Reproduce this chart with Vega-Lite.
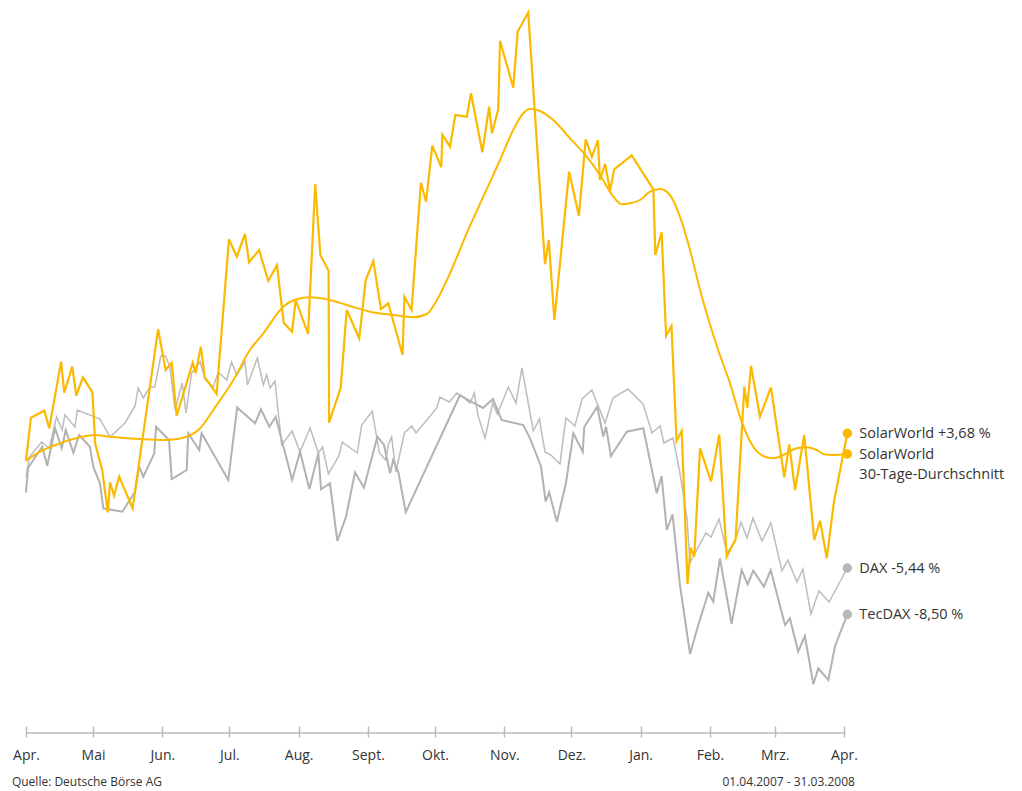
{
  "$schema": "https://vega.github.io/schema/vega-lite/v6.json",
  "width": 818,
  "height": 721,
  "autosize": {"type": "none"},
  "padding": {"left": 26, "top": 5, "right": 178, "bottom": 65},
  "background": "white",
  "config": {"view": {"stroke": null}, "font": "Open Sans"},
  "datasets": {
    "series": [
      {"series":"SolarWorld","day":0,"value":265.3},{"series":"SolarWorld","day":2.2,"value":308.3},{"series":"SolarWorld","day":8.2,"value":315.3},{"series":"SolarWorld","day":10.4,"value":297.7},{"series":"SolarWorld","day":15.7,"value":364.3},{"series":"SolarWorld","day":17.1,"value":333.3},{"series":"SolarWorld","day":20.7,"value":359.3},{"series":"SolarWorld","day":22.5,"value":330.3},{"series":"SolarWorld","day":25.5,"value":348.7},{"series":"SolarWorld","day":29.7,"value":333.7},{"series":"SolarWorld","day":31.0,"value":282},{"series":"SolarWorld","day":34.1,"value":256},{"series":"SolarWorld","day":36.6,"value":213.7},{"series":"SolarWorld","day":37.6,"value":243.7},{"series":"SolarWorld","day":39.4,"value":230.3},{"series":"SolarWorld","day":41.7,"value":249.3},{"series":"SolarWorld","day":47.7,"value":217.7},{"series":"SolarWorld","day":59.1,"value":396.7},{"series":"SolarWorld","day":62.5,"value":356},{"series":"SolarWorld","day":65.2,"value":363.3},{"series":"SolarWorld","day":67.4,"value":310},{"series":"SolarWorld","day":74.6,"value":363.3},{"series":"SolarWorld","day":75.9,"value":352.7},{"series":"SolarWorld","day":78.2,"value":379.3},{"series":"SolarWorld","day":80.0,"value":348.7},{"series":"SolarWorld","day":85.3,"value":332},{"series":"SolarWorld","day":90.8,"value":486.7},{"series":"SolarWorld","day":94.3,"value":469.3},{"series":"SolarWorld","day":98.0,"value":492},{"series":"SolarWorld","day":99.8,"value":463.7},{"series":"SolarWorld","day":104.3,"value":476},{"series":"SolarWorld","day":108.4,"value":445},{"series":"SolarWorld","day":112.3,"value":461},{"series":"SolarWorld","day":115.3,"value":403.3},{"series":"SolarWorld","day":119.0,"value":394.3},{"series":"SolarWorld","day":120.7,"value":426},{"series":"SolarWorld","day":126.2,"value":392},{"series":"SolarWorld","day":129.4,"value":542},{"series":"SolarWorld","day":131.7,"value":471},{"series":"SolarWorld","day":135.4,"value":455.3},{"series":"SolarWorld","day":135.6,"value":303.3},{"series":"SolarWorld","day":140.8,"value":338.3},{"series":"SolarWorld","day":143.5,"value":416},{"series":"SolarWorld","day":149.1,"value":387.7},{"series":"SolarWorld","day":152.0,"value":446},{"series":"SolarWorld","day":155.4,"value":465},{"series":"SolarWorld","day":158.8,"value":417},{"series":"SolarWorld","day":162.1,"value":422.7},{"series":"SolarWorld","day":168.5,"value":371},{"series":"SolarWorld","day":169.3,"value":429.3},{"series":"SolarWorld","day":172.5,"value":416},{"series":"SolarWorld","day":176.7,"value":543.3},{"series":"SolarWorld","day":179.0,"value":524.3},{"series":"SolarWorld","day":181.8,"value":580.3},{"series":"SolarWorld","day":185.8,"value":558.7},{"series":"SolarWorld","day":186.3,"value":591.3},{"series":"SolarWorld","day":189.7,"value":579.3},{"series":"SolarWorld","day":192.1,"value":611},{"series":"SolarWorld","day":197.2,"value":609.3},{"series":"SolarWorld","day":199.1,"value":632.7},{"series":"SolarWorld","day":204.2,"value":573.7},{"series":"SolarWorld","day":207.2,"value":619.3},{"series":"SolarWorld","day":208.5,"value":592.7},{"series":"SolarWorld","day":211.3,"value":616.7},{"series":"SolarWorld","day":212.1,"value":685.3},{"series":"SolarWorld","day":218.0,"value":638.3},{"series":"SolarWorld","day":220.0,"value":694.3},{"series":"SolarWorld","day":224.7,"value":713.7},{"series":"SolarWorld","day":232.2,"value":461.7},{"series":"SolarWorld","day":233.9,"value":486},{"series":"SolarWorld","day":236.4,"value":406},{"series":"SolarWorld","day":243.0,"value":554.3},{"series":"SolarWorld","day":247.4,"value":510},{"series":"SolarWorld","day":250.4,"value":586.7},{"series":"SolarWorld","day":253.2,"value":569.3},{"series":"SolarWorld","day":255.9,"value":586},{"series":"SolarWorld","day":256.8,"value":546},{"series":"SolarWorld","day":259.1,"value":562},{"series":"SolarWorld","day":261.3,"value":535.3},{"series":"SolarWorld","day":263.2,"value":556.7},{"series":"SolarWorld","day":271.0,"value":570.7},{"series":"SolarWorld","day":280.7,"value":536.7},{"series":"SolarWorld","day":281.6,"value":471},{"series":"SolarWorld","day":284.4,"value":493.7},{"series":"SolarWorld","day":286.4,"value":390},{"series":"SolarWorld","day":288.8,"value":400},{"series":"SolarWorld","day":291.1,"value":285},{"series":"SolarWorld","day":293.4,"value":295},{"series":"SolarWorld","day":296.0,"value":142},{"series":"SolarWorld","day":297.4,"value":178.3},{"series":"SolarWorld","day":299.0,"value":169.3},{"series":"SolarWorld","day":301.6,"value":277.7},{"series":"SolarWorld","day":306.5,"value":244.5},{"series":"SolarWorld","day":310.2,"value":291.5},{"series":"SolarWorld","day":313.5,"value":169.3},{"series":"SolarWorld","day":317.5,"value":186.7},{"series":"SolarWorld","day":321.4,"value":339.3},{"series":"SolarWorld","day":322.7,"value":318.3},{"series":"SolarWorld","day":324.4,"value":360},{"series":"SolarWorld","day":328.4,"value":309.3},{"series":"SolarWorld","day":333.3,"value":338.7},{"series":"SolarWorld","day":339.3,"value":248.7},{"series":"SolarWorld","day":341.5,"value":281.7},{"series":"SolarWorld","day":344.1,"value":236},{"series":"SolarWorld","day":348.2,"value":291},{"series":"SolarWorld","day":352.7,"value":186},{"series":"SolarWorld","day":355.3,"value":205.3},{"series":"SolarWorld","day":358.3,"value":167.7},{"series":"SolarWorld","day":361.5,"value":224.3},{"series":"SolarWorld","day":367.5,"value":292.7},

      {"series":"Durchschnitt","day":0,"value":265.3},{"series":"Durchschnitt","day":5.5,"value":273.3},{"series":"Durchschnitt","day":15.2,"value":282.7},{"series":"Durchschnitt","day":24.2,"value":288.7},{"series":"Durchschnitt","day":30.9,"value":291},{"series":"Durchschnitt","day":37.6,"value":289.3},{"series":"Durchschnitt","day":52.5,"value":286.7},{"series":"Durchschnitt","day":63.0,"value":286},{"series":"Durchschnitt","day":71.9,"value":289.3},{"series":"Durchschnitt","day":77.9,"value":297.7},{"series":"Durchschnitt","day":83.8,"value":316},{"series":"Durchschnitt","day":92.8,"value":346},{"series":"Durchschnitt","day":100.2,"value":376},{"series":"Durchschnitt","day":106.2,"value":392.7},{"series":"Durchschnitt","day":115.1,"value":419.3},{"series":"Durchschnitt","day":121.1,"value":426.7},{"series":"Durchschnitt","day":127.1,"value":428.7},{"series":"Durchschnitt","day":136.0,"value":426},{"series":"Durchschnitt","day":143.5,"value":421},{"series":"Durchschnitt","day":153.9,"value":414.3},{"series":"Durchschnitt","day":164.3,"value":411},{"series":"Durchschnitt","day":173.3,"value":408.7},{"series":"Durchschnitt","day":179.3,"value":412},{"series":"Durchschnitt","day":183.0,"value":422.7},{"series":"Durchschnitt","day":189.7,"value":452.7},{"series":"Durchschnitt","day":197.2,"value":492.7},{"series":"Durchschnitt","day":204.6,"value":529.3},{"series":"Durchschnitt","day":212.1,"value":566},{"series":"Durchschnitt","day":218.0,"value":596},{"series":"Durchschnitt","day":222.5,"value":612.7},{"series":"Durchschnitt","day":225.8,"value":617.3},{"series":"Durchschnitt","day":230.0,"value":615},{"series":"Durchschnitt","day":235.9,"value":606},{"series":"Durchschnitt","day":243.4,"value":587.7},{"series":"Durchschnitt","day":250.9,"value":569.3},{"series":"Durchschnitt","day":256.8,"value":551},{"series":"Durchschnitt","day":262.8,"value":529.3},{"series":"Durchschnitt","day":266.5,"value":521.7},{"series":"Durchschnitt","day":270.2,"value":522.7},{"series":"Durchschnitt","day":274.7,"value":526},{"series":"Durchschnitt","day":279.2,"value":534.3},{"series":"Durchschnitt","day":283.7,"value":537},{"series":"Durchschnitt","day":288.1,"value":531},{"series":"Durchschnitt","day":292.6,"value":509.3},{"series":"Durchschnitt","day":297.1,"value":476},{"series":"Durchschnitt","day":301.6,"value":436},{"series":"Durchschnitt","day":309.7,"value":376},{"series":"Durchschnitt","day":315.0,"value":342.7},{"series":"Durchschnitt","day":320.2,"value":304.3},{"series":"Durchschnitt","day":325.4,"value":279.3},{"series":"Durchschnitt","day":329.9,"value":270},{"series":"Durchschnitt","day":334.4,"value":267.7},{"series":"Durchschnitt","day":338.8,"value":271},{"series":"Durchschnitt","day":344.8,"value":277.7},{"series":"Durchschnitt","day":349.3,"value":278.7},{"series":"Durchschnitt","day":353.8,"value":276},{"series":"Durchschnitt","day":356.7,"value":272},{"series":"Durchschnitt","day":361.2,"value":271},{"series":"Durchschnitt","day":367.5,"value":272},

      {"series":"DAX","day":0,"value":249},{"series":"DAX","day":1.5,"value":269},{"series":"DAX","day":7.0,"value":284},{"series":"DAX","day":10.4,"value":278},{"series":"DAX","day":13.7,"value":309},{"series":"DAX","day":16.2,"value":296},{"series":"DAX","day":17.4,"value":311},{"series":"DAX","day":21.9,"value":299},{"series":"DAX","day":23.0,"value":316},{"series":"DAX","day":33.1,"value":307},{"series":"DAX","day":37.6,"value":289},{"series":"DAX","day":44.3,"value":303},{"series":"DAX","day":48.8,"value":320},{"series":"DAX","day":50.2,"value":338},{"series":"DAX","day":52.5,"value":328},{"series":"DAX","day":55.5,"value":339},{"series":"DAX","day":57.7,"value":339},{"series":"DAX","day":60.3,"value":370},{"series":"DAX","day":62.5,"value":370},{"series":"DAX","day":64.4,"value":359},{"series":"DAX","day":66.7,"value":316},{"series":"DAX","day":69.9,"value":343},{"series":"DAX","day":71.6,"value":313},{"series":"DAX","day":74.1,"value":353},{"series":"DAX","day":77.9,"value":364},{"series":"DAX","day":80.1,"value":347},{"series":"DAX","day":83.8,"value":339},{"series":"DAX","day":86.0,"value":354},{"series":"DAX","day":89.8,"value":346},{"series":"DAX","day":92.0,"value":364},{"series":"DAX","day":94.3,"value":351},{"series":"DAX","day":98.0,"value":364},{"series":"DAX","day":99.1,"value":341},{"series":"DAX","day":103.5,"value":368},{"series":"DAX","day":106.2,"value":341},{"series":"DAX","day":107.7,"value":351},{"series":"DAX","day":109.2,"value":338},{"series":"DAX","day":111.4,"value":345},{"series":"DAX","day":114.4,"value":281},{"series":"DAX","day":119.1,"value":295},{"series":"DAX","day":122.6,"value":274},{"series":"DAX","day":127.1,"value":298},{"series":"DAX","day":130.8,"value":273},{"series":"DAX","day":132.7,"value":279},{"series":"DAX","day":135.3,"value":252},{"series":"DAX","day":140.0,"value":270},{"series":"DAX","day":141.5,"value":284},{"series":"DAX","day":148.2,"value":273},{"series":"DAX","day":150.2,"value":301},{"series":"DAX","day":154.9,"value":315},{"series":"DAX","day":158.1,"value":273},{"series":"DAX","day":160.9,"value":266},{"series":"DAX","day":162.1,"value":281},{"series":"DAX","day":163.6,"value":289},{"series":"DAX","day":165.5,"value":254},{"series":"DAX","day":169.3,"value":293},{"series":"DAX","day":172.6,"value":300},{"series":"DAX","day":174.5,"value":293},{"series":"DAX","day":183.8,"value":318},{"series":"DAX","day":185.2,"value":329},{"series":"DAX","day":189.4,"value":324},{"series":"DAX","day":192.7,"value":333},{"series":"DAX","day":195.4,"value":329},{"series":"DAX","day":198.7,"value":323},{"series":"DAX","day":200.6,"value":333},{"series":"DAX","day":202.2,"value":311},{"series":"DAX","day":205.4,"value":288},{"series":"DAX","day":208.8,"value":323},{"series":"DAX","day":210.9,"value":312},{"series":"DAX","day":215.8,"value":339},{"series":"DAX","day":219.2,"value":323},{"series":"DAX","day":221.9,"value":358},{"series":"DAX","day":227.0,"value":295},{"series":"DAX","day":229.7,"value":307},{"series":"DAX","day":232.2,"value":274},{"series":"DAX","day":234.9,"value":271},{"series":"DAX","day":238.9,"value":262},{"series":"DAX","day":241.6,"value":308},{"series":"DAX","day":245.6,"value":300},{"series":"DAX","day":248.8,"value":327},{"series":"DAX","day":253.2,"value":336},{"series":"DAX","day":259.1,"value":303},{"series":"DAX","day":262.6,"value":328},{"series":"DAX","day":269.3,"value":337},{"series":"DAX","day":276.1,"value":322},{"series":"DAX","day":280.1,"value":293},{"series":"DAX","day":283.7,"value":300},{"series":"DAX","day":285.4,"value":283},{"series":"DAX","day":289.5,"value":288},{"series":"DAX","day":292.6,"value":253},{"series":"DAX","day":295.7,"value":209},{"series":"DAX","day":297.1,"value":163},{"series":"DAX","day":298.4,"value":169},{"series":"DAX","day":304.2,"value":193},{"series":"DAX","day":306.5,"value":189},{"series":"DAX","day":310.1,"value":207},{"series":"DAX","day":313.6,"value":173},{"series":"DAX","day":317.2,"value":184},{"series":"DAX","day":319.9,"value":204},{"series":"DAX","day":322.6,"value":188},{"series":"DAX","day":325.3,"value":208},{"series":"DAX","day":329.3,"value":185},{"series":"DAX","day":333.3,"value":203},{"series":"DAX","day":338.2,"value":155},{"series":"DAX","day":340.9,"value":166},{"series":"DAX","day":345.0,"value":144},{"series":"DAX","day":347.6,"value":157},{"series":"DAX","day":351.2,"value":112},{"series":"DAX","day":354.8,"value":135},{"series":"DAX","day":359.3,"value":124},{"series":"DAX","day":367.5,"value":158},

      {"series":"TecDAX","day":0,"value":233.3},{"series":"TecDAX","day":0.9,"value":258},{"series":"TecDAX","day":7.3,"value":279.3},{"series":"TecDAX","day":9.5,"value":260.3},{"series":"TecDAX","day":13.0,"value":297.7},{"series":"TecDAX","day":16.0,"value":277.7},{"series":"TecDAX","day":17.8,"value":296},{"series":"TecDAX","day":21.2,"value":273.3},{"series":"TecDAX","day":23.8,"value":291},{"series":"TecDAX","day":28.6,"value":279.3},{"series":"TecDAX","day":30.1,"value":259.3},{"series":"TecDAX","day":33.1,"value":242.7},{"series":"TecDAX","day":34.6,"value":217.7},{"series":"TecDAX","day":43.1,"value":214.3},{"series":"TecDAX","day":48.8,"value":234.3},{"series":"TecDAX","day":50.6,"value":259.3},{"series":"TecDAX","day":52.5,"value":249.3},{"series":"TecDAX","day":57.4,"value":272.7},{"series":"TecDAX","day":58.2,"value":299.3},{"series":"TecDAX","day":64.0,"value":286},{"series":"TecDAX","day":65.2,"value":247},{"series":"TecDAX","day":71.9,"value":256},{"series":"TecDAX","day":72.6,"value":292.7},{"series":"TecDAX","day":77.5,"value":276},{"series":"TecDAX","day":78.6,"value":292.7},{"series":"TecDAX","day":90.5,"value":246},{"series":"TecDAX","day":94.5,"value":318.7},{"series":"TecDAX","day":95.7,"value":316},{"series":"TecDAX","day":102.5,"value":302.7},{"series":"TecDAX","day":105.1,"value":316.7},{"series":"TecDAX","day":108.9,"value":299.3},{"series":"TecDAX","day":111.7,"value":309.3},{"series":"TecDAX","day":119.1,"value":246},{"series":"TecDAX","day":122.6,"value":274.3},{"series":"TecDAX","day":126.8,"value":237},{"series":"TecDAX","day":130.8,"value":272.7},{"series":"TecDAX","day":132.0,"value":236.7},{"series":"TecDAX","day":136.0,"value":242.7},{"series":"TecDAX","day":139.3,"value":185},{"series":"TecDAX","day":143.2,"value":209.3},{"series":"TecDAX","day":147.2,"value":253.7},{"series":"TecDAX","day":151.2,"value":238.3},{"series":"TecDAX","day":157.2,"value":289.3},{"series":"TecDAX","day":160.2,"value":281},{"series":"TecDAX","day":162.9,"value":252.7},{"series":"TecDAX","day":164.3,"value":266},{"series":"TecDAX","day":166.6,"value":254.3},{"series":"TecDAX","day":169.9,"value":213.7},{"series":"TecDAX","day":194.2,"value":331},{"series":"TecDAX","day":197.8,"value":326},{"series":"TecDAX","day":204.5,"value":318},{"series":"TecDAX","day":208.9,"value":327},{"series":"TecDAX","day":212.8,"value":306},{"series":"TecDAX","day":222.5,"value":301},{"series":"TecDAX","day":225.5,"value":287.7},{"series":"TecDAX","day":230.4,"value":260},{"series":"TecDAX","day":232.5,"value":224.3},{"series":"TecDAX","day":234.1,"value":233.7},{"series":"TecDAX","day":237.5,"value":204.3},{"series":"TecDAX","day":241.6,"value":243},{"series":"TecDAX","day":244.9,"value":292.7},{"series":"TecDAX","day":249.1,"value":274.3},{"series":"TecDAX","day":249.8,"value":299.3},{"series":"TecDAX","day":255.6,"value":319.3},{"series":"TecDAX","day":258.3,"value":289.3},{"series":"TecDAX","day":259.5,"value":299.3},{"series":"TecDAX","day":261.7,"value":270},{"series":"TecDAX","day":268.8,"value":294.3},{"series":"TecDAX","day":276.2,"value":297.7},{"series":"TecDAX","day":282.2,"value":232.7},{"series":"TecDAX","day":284.4,"value":250},{"series":"TecDAX","day":286.7,"value":196},{"series":"TecDAX","day":289.3,"value":211.7},{"series":"TecDAX","day":292.6,"value":141},{"series":"TecDAX","day":297.1,"value":72},{"series":"TecDAX","day":300.8,"value":101},{"series":"TecDAX","day":305.3,"value":133.3},{"series":"TecDAX","day":307.5,"value":124.3},{"series":"TecDAX","day":310.5,"value":167.7},{"series":"TecDAX","day":315.7,"value":102},{"series":"TecDAX","day":320.2,"value":156},{"series":"TecDAX","day":322.9,"value":141.7},{"series":"TecDAX","day":325.4,"value":155.3},{"series":"TecDAX","day":330.2,"value":139.3},{"series":"TecDAX","day":333.2,"value":156},{"series":"TecDAX","day":339.6,"value":101},{"series":"TecDAX","day":341.8,"value":107.7},{"series":"TecDAX","day":345.5,"value":74.3},{"series":"TecDAX","day":348.5,"value":90},{"series":"TecDAX","day":352.3,"value":41.7},{"series":"TecDAX","day":354.5,"value":57.7},{"series":"TecDAX","day":359.0,"value":46},{"series":"TecDAX","day":362.0,"value":80},{"series":"TecDAX","day":367.5,"value":111.7}
    ],
    "labels": [
      {"series":"SolarWorld","day":367.5,"value":292.7,"label":"SolarWorld +3,68 %"},
      {"series":"Durchschnitt","day":367.5,"value":272,"label":["SolarWorld","30-Tage-Durchschnitt"]},
      {"series":"DAX","day":367.5,"value":158,"label":"DAX -5,44 %"},
      {"series":"TecDAX","day":367.5,"value":111.7,"label":"TecDAX -8,50 %"}
    ]
  },
  "layer": [
    {
      "data": {"values": [{}]},
      "mark": {"type": "rule", "color": "#bbbbbb", "strokeWidth": 1.5},
      "encoding": {
        "x": {"datum": 0, "type": "quantitative", "scale": {"domain": [0, 366], "nice": false, "zero": false},
          "axis": {
            "values": [0, 30, 61, 91, 122, 153, 183, 214, 244, 275, 306, 335, 366],
            "labelExpr": "datum.value == 0 ? 'Apr.' : datum.value == 30 ? 'Mai' : datum.value == 61 ? 'Jun.' : datum.value == 91 ? 'Jul.' : datum.value == 122 ? 'Aug.' : datum.value == 153 ? 'Sept.' : datum.value == 183 ? 'Okt.' : datum.value == 214 ? 'Nov.' : datum.value == 244 ? 'Dez.' : datum.value == 275 ? 'Jan.' : datum.value == 306 ? 'Feb.' : datum.value == 335 ? 'Mrz.' : 'Apr.'",
            "domain": false, "grid": false, "title": null,
            "tickSize": 11, "tickColor": "#bbbbbb", "tickWidth": 1.5,
            "labelFont": "Open Sans", "labelFontSize": 14, "labelColor": "#333333",
            "labelPadding": 11, "labelOverlap": false, "labelFlush": false
          }},
        "x2": {"datum": 366},
        "y": {"datum": -7, "type": "quantitative", "scale": {"domain": [0, 721], "nice": false, "zero": false}, "axis": null}
      }
    },
    {
      "data": {"name": "series"},
      "transform": [{"filter": "datum.series == 'DAX'"}],
      "mark": {"type": "line", "color": "#bdbdbd", "strokeWidth": 1.5},
      "encoding": {
        "x": {"field": "day", "type": "quantitative", "scale": {"domain": [0, 366], "nice": false, "zero": false}},
        "y": {"field": "value", "type": "quantitative", "scale": {"domain": [0, 721], "nice": false, "zero": false}, "axis": null},
        "order": {"field": "day"}
      }
    },
    {
      "data": {"name": "series"},
      "transform": [{"filter": "datum.series == 'TecDAX'"}],
      "mark": {"type": "line", "color": "#b2b2b2", "strokeWidth": 2},
      "encoding": {
        "x": {"field": "day", "type": "quantitative", "scale": {"domain": [0, 366], "nice": false, "zero": false}},
        "y": {"field": "value", "type": "quantitative", "scale": {"domain": [0, 721], "nice": false, "zero": false}, "axis": null},
        "order": {"field": "day"}
      }
    },
    {
      "data": {"name": "series"},
      "transform": [{"filter": "datum.series == 'Durchschnitt'"}],
      "mark": {"type": "line", "color": "#fbb900", "strokeWidth": 2, "interpolate": "monotone"},
      "encoding": {
        "x": {"field": "day", "type": "quantitative", "scale": {"domain": [0, 366], "nice": false, "zero": false}},
        "y": {"field": "value", "type": "quantitative", "scale": {"domain": [0, 721], "nice": false, "zero": false}, "axis": null},
        "order": {"field": "day"}
      }
    },
    {
      "data": {"name": "series"},
      "transform": [{"filter": "datum.series == 'SolarWorld'"}],
      "mark": {"type": "line", "color": "#fbb900", "strokeWidth": 2.2},
      "encoding": {
        "x": {"field": "day", "type": "quantitative", "scale": {"domain": [0, 366], "nice": false, "zero": false}},
        "y": {"field": "value", "type": "quantitative", "scale": {"domain": [0, 721], "nice": false, "zero": false}, "axis": null},
        "order": {"field": "day"}
      }
    },
    {
      "data": {"name": "labels"},
      "mark": {"type": "point", "filled": true, "size": 90, "opacity": 1},
      "encoding": {
        "x": {"field": "day", "type": "quantitative", "scale": {"domain": [0, 366], "nice": false, "zero": false}},
        "y": {"field": "value", "type": "quantitative", "scale": {"domain": [0, 721], "nice": false, "zero": false}, "axis": null},
        "color": {"field": "series", "type": "nominal", "legend": null,
          "scale": {"domain": ["SolarWorld", "Durchschnitt", "DAX", "TecDAX"], "range": ["#fbb900", "#fbb900", "#b8b8b8", "#b8b8b8"]}}
      }
    },
    {
      "data": {"name": "labels"},
      "mark": {"type": "text", "align": "left", "baseline": "top", "dx": 12, "dy": -6, "fontSize": 14.5, "font": "Open Sans", "color": "#333333", "lineHeight": 20},
      "encoding": {
        "x": {"field": "day", "type": "quantitative", "scale": {"domain": [0, 366], "nice": false, "zero": false}},
        "y": {"field": "value", "type": "quantitative", "scale": {"domain": [0, 721], "nice": false, "zero": false}, "axis": null},
        "text": {"field": "label"}
      }
    },
    {
      "data": {"values": [{}]},
      "mark": {"type": "text", "align": "left", "baseline": "middle", "fontSize": 12, "font": "Open Sans", "color": "#333333"},
      "encoding": {
        "x": {"datum": -6.3, "type": "quantitative"},
        "y": {"datum": -56, "type": "quantitative"},
        "text": {"value": "Quelle: Deutsche Börse AG"}
      }
    },
    {
      "data": {"values": [{}]},
      "mark": {"type": "text", "align": "right", "baseline": "middle", "fontSize": 12, "font": "Open Sans", "color": "#333333"},
      "encoding": {
        "x": {"datum": 370.9, "type": "quantitative"},
        "y": {"datum": -56, "type": "quantitative"},
        "text": {"value": "01.04.2007 - 31.03.2008"}
      }
    }
  ]
}
